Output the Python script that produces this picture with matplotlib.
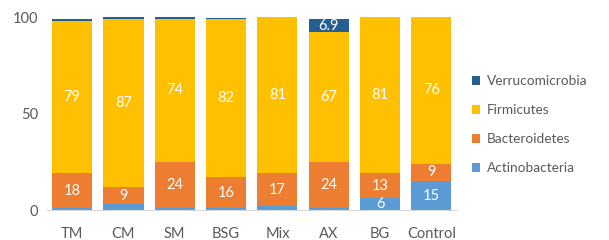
import matplotlib.pyplot as plt
import numpy as np

# Data (percent relative abundance)
samples = ["TM", "CM", "SM", "BSG", "Mix", "AX", "BG", "Control"]
actinobacteria = [1, 3, 1, 1, 2, 1, 6, 15]
bacteroidetes = [18, 9, 24, 16, 17, 24, 13, 9]
firmicutes = [79, 87, 74, 82, 81, 67, 81, 76]
verrucomicrobia = [1, 1, 1, 0.5, 0, 6.9, 0.5, 0.5]

# which segments carry a value label
show_actino = [False, False, False, False, False, False, True, True]
show_verruco = [False, False, False, False, False, True, False, False]

colors = {
    "Actinobacteria": "#5B9BD5",
    "Bacteroidetes": "#ED7D31",
    "Firmicutes": "#FFC000",
    "Verrucomicrobia": "#255E91",
}
text_grey = "#595959"

plt.rcParams["font.family"] = ["Lato", "DejaVu Sans"]

fig = plt.figure(figsize=(6.09, 2.4), dpi=100)
ax = fig.add_axes([0.0764, 0.125, 0.674, 0.804])

x = np.arange(len(samples))
width = 0.78
series = [
    ("Actinobacteria", actinobacteria),
    ("Bacteroidetes", bacteroidetes),
    ("Firmicutes", firmicutes),
    ("Verrucomicrobia", verrucomicrobia),
]

bottom = np.zeros(len(samples))
bars = {}
for name, vals in series:
    vals = np.array(vals, dtype=float)
    bars[name] = ax.bar(x, vals, width, bottom=bottom, color=colors[name], label=name)
    for i, v in enumerate(vals):
        show = name in ("Bacteroidetes", "Firmicutes")
        if name == "Actinobacteria":
            show = show_actino[i]
        if name == "Verrucomicrobia":
            show = show_verruco[i]
        if show:
            ax.text(x[i], bottom[i] + v / 2, f"{v:g}", ha="center", va="center",
                    color="white", fontsize=10.5)
    bottom += vals

ax.set_xlim(-0.5, 7.5)
ax.set_ylim(0, 100)
ax.set_yticks([0, 50, 100])
ax.set_xticks(x)
ax.set_xticklabels(samples)
ax.tick_params(axis="both", length=0, labelsize=10.5, colors=text_grey)
ax.tick_params(axis="x", pad=12)
ax.tick_params(axis="y", pad=6)
for side in ("top", "right", "left"):
    ax.spines[side].set_visible(False)
ax.spines["bottom"].set_color("#D9D9D9")

handles = [bars[n] for n, _ in series][::-1]
labels = [n for n, _ in series][::-1]
fig.legend(handles, labels, loc="center left", bbox_to_anchor=(0.775, 0.48),
           frameon=False, fontsize=9.8, handlelength=0.6, handleheight=0.6,
           handletextpad=0.5, labelspacing=1.25, labelcolor=text_grey,
           borderaxespad=0, borderpad=0)

fig.savefig("out.png", dpi=100)
